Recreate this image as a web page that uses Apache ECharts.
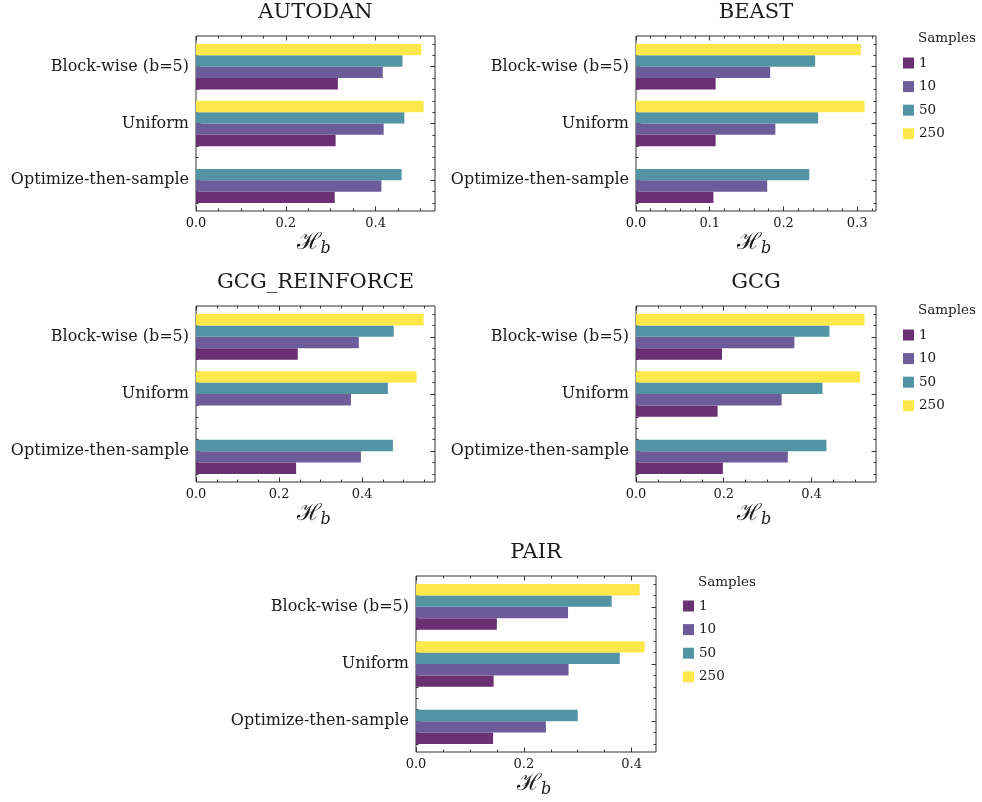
<!DOCTYPE html>
<html><head><meta charset="utf-8">
<script src="https://cdn.jsdelivr.net/npm/echarts@6/dist/echarts.min.js"></script>
<style>html,body{margin:0;padding:0;background:#fff}#c{width:982px;height:802px}</style>
</head><body><div id="c"></div>
<script>
// ---- data (order of values: Optimize-then-sample, Uniform, Block-wise) ----
const categories = ['Optimize-then-sample', 'Uniform', 'Block-wise (b=5)'];
const sampleCounts = ['1', '10', '50', '250'];

const autodan1   = [0.309, 0.311, 0.316];
const autodan10  = [0.413, 0.418, 0.416];
const autodan50  = [0.458, 0.464, 0.460];
const autodan250 = [null, 0.507, 0.502];

const beast1   = [0.105, 0.108, 0.108];
const beast10  = [0.178, 0.189, 0.182];
const beast50  = [0.235, 0.247, 0.243];
const beast250 = [null, 0.310, 0.305];

const gcgr1   = [0.241, null, 0.245];
const gcgr10  = [0.397, 0.373, 0.392];
const gcgr50  = [0.474, 0.462, 0.476];
const gcgr250 = [null, 0.531, 0.548];

const gcg1   = [0.198, 0.186, 0.196];
const gcg10  = [0.346, 0.332, 0.361];
const gcg50  = [0.434, 0.425, 0.441];
const gcg250 = [null, 0.511, 0.521];

const pair1   = [0.143, 0.144, 0.150];
const pair10  = [0.241, 0.283, 0.282];
const pair50  = [0.300, 0.378, 0.363];
const pair250 = [null, 0.424, 0.415];

const ticks02 = [0.0, 0.2, 0.4];
const ticks01 = [0.0, 0.1, 0.2, 0.3];

// ---- styling / layout ----
const colors = ['#6b3074', '#6c5c9a', '#5294a4', '#fde84b'];
const FONT = "'DejaVu Serif', serif";
const TXT = '#1a1a1a';
const FRAME = '#333';

const panels = [
  {title: 'AUTODAN', series: [autodan1, autodan10, autodan50, autodan250], ticks: ticks02, minor: 0.05,
   grid: {left: 196, top: 36, width: 239, height: 175}},
  {title: 'BEAST', series: [beast1, beast10, beast50, beast250], ticks: ticks01, minor: 0.02,
   grid: {left: 636, top: 36, width: 240, height: 175}},
  {title: 'GCG_REINFORCE', series: [gcgr1, gcgr10, gcgr50, gcgr250], ticks: ticks02, minor: 0.05,
   grid: {left: 196, top: 306, width: 239, height: 176}},
  {title: 'GCG', series: [gcg1, gcg10, gcg50, gcg250], ticks: ticks02, minor: 0.05,
   grid: {left: 636, top: 306, width: 240, height: 176}},
  {title: 'PAIR', series: [pair1, pair10, pair50, pair250], ticks: ticks02, minor: 0.05,
   grid: {left: 416, top: 576, width: 240, height: 176}}
];

const Y_MIN = -0.54, Y_MAX = 2.54;
const yMajor = [0, 1, 2];
const yMinor = [];
for (let k = -2; k <= 12; k++) { if (k % 5 !== 0) yMinor.push(+(k * 0.2).toFixed(2)); }

const grids = [], xAxes = [], yAxes = [], series = [], graphics = [];

panels.forEach((p, k) => {
  grids.push(Object.assign({show: true, borderColor: FRAME, borderWidth: 1, backgroundColor: 'transparent'}, p.grid));
  const all = [].concat(...p.series).filter(v => v != null);
  const xMax = Math.max(...all) * 1.05;
  const xMinor = [];
  for (let v = p.minor; v < xMax; v += p.minor) {
    const r = +v.toFixed(4);
    if (!p.ticks.some(t => Math.abs(t - r) < 1e-6)) xMinor.push(r);
  }
  const baseX = {type: 'value', gridIndex: k, min: 0, max: xMax, axisLine: {show: false, onZero: false}, splitLine: {show: false}};
  const baseY = {type: 'value', gridIndex: k, min: Y_MIN, max: Y_MAX, axisLine: {show: false, onZero: false}, splitLine: {show: false}};
  const tick = (vals, len) => ({show: true, inside: true, length: len, customValues: vals, lineStyle: {color: FRAME, width: 1}});
  // bottom main
  xAxes.push(Object.assign({}, baseX, {position: 'bottom', axisTick: tick(p.ticks, 4.5),
    axisLabel: {customValues: p.ticks, formatter: v => v.toFixed(1), margin: 6, fontFamily: FONT, fontSize: 13, color: TXT}}));
  xAxes.push(Object.assign({}, baseX, {position: 'bottom', axisTick: tick(xMinor, 2.5), axisLabel: {show: false}}));
  xAxes.push(Object.assign({}, baseX, {position: 'top', axisTick: tick(p.ticks, 4.5), axisLabel: {show: false}}));
  xAxes.push(Object.assign({}, baseX, {position: 'top', axisTick: tick(xMinor, 2.5), axisLabel: {show: false}}));
  // left main
  yAxes.push(Object.assign({}, baseY, {position: 'left', axisTick: tick(yMajor, 4.5),
    axisLabel: {customValues: yMajor, formatter: v => categories[Math.round(v)], margin: 7, fontFamily: FONT, fontSize: 16, color: TXT}}));
  yAxes.push(Object.assign({}, baseY, {position: 'left', axisTick: tick(yMinor, 2.5), axisLabel: {show: false}}));
  yAxes.push(Object.assign({}, baseY, {position: 'right', axisTick: tick(yMajor, 4.5), axisLabel: {show: false}}));
  yAxes.push(Object.assign({}, baseY, {position: 'right', axisTick: tick(yMinor, 2.5), axisLabel: {show: false}}));

  p.series.forEach((vals, i) => {
    const off = (i - 1.5) * 0.2;
    series.push({
      type: 'custom', name: sampleCounts[i], xAxisIndex: 4 * k, yAxisIndex: 4 * k,
      itemStyle: {color: colors[i]}, encode: {x: 0, y: 1}, clip: false,
      data: vals.map((v, c) => v == null ? null : [v, c]).filter(d => d),
      renderItem: (params, api) => {
        const v = api.value(0), c = api.value(1);
        const a = api.coord([0, c + off - 0.1]);
        const b = api.coord([v, c + off + 0.1]);
        return {type: 'rect', shape: {x: a[0], y: b[1], width: b[0] - a[0], height: a[1] - b[1]},
                style: {fill: colors[i]}};
      }
    });
  });

  const cx = p.grid.left + p.grid.width / 2;
  graphics.push({type: 'text', x: cx, y: p.grid.top - 23,
    style: {text: p.title, font: "21px " + FONT, fill: TXT, align: 'center', verticalAlign: 'middle',
            textAlign: 'center', textVerticalAlign: 'middle'}});
  // axis name: calligraphic H with subscript b
  const by = p.grid.top + p.grid.height;
  graphics.push({type: 'text', x: cx + 5, y: by + 44,
    style: {text: 'ℋ', font: "23px " + FONT, fill: TXT, align: 'right', verticalAlign: 'bottom',
            textAlign: 'right', textVerticalAlign: 'bottom'}});
  graphics.push({type: 'text', x: cx + 5, y: by + 46,
    style: {text: 'b', font: "italic 16px " + FONT, fill: TXT, align: 'left', verticalAlign: 'bottom',
            textAlign: 'left', textVerticalAlign: 'bottom'}});
});

const legendSpecs = [
  {left: 903, top: 56, head: [918, 38]},
  {left: 903, top: 328, head: [918, 310]},
  {left: 683, top: 599, head: [698, 582]}
];
const legends = legendSpecs.map(s => ({
  orient: 'vertical', left: s.left, top: s.top, padding: 0, itemGap: 9.6,
  itemWidth: 11, itemHeight: 11, icon: 'rect', selectedMode: false,
  textStyle: {fontFamily: FONT, fontSize: 13.5, color: TXT, lineHeight: 14},
  data: sampleCounts.map((n, i) => ({name: n, itemStyle: {color: colors[i]}}))
}));
legendSpecs.forEach(s => graphics.push({type: 'text', x: s.head[0], y: s.head[1],
  style: {text: 'Samples', font: "13.5px " + FONT, fill: TXT, align: 'left', verticalAlign: 'middle',
          textAlign: 'left', textVerticalAlign: 'middle'}}));

const chart = echarts.init(document.getElementById('c'), null, {renderer: 'canvas'});
chart.setOption({
  animation: false, backgroundColor: '#fff',
  grid: grids, xAxis: xAxes, yAxis: yAxes, series: series, legend: legends, graphic: graphics
});
</script></body></html>
